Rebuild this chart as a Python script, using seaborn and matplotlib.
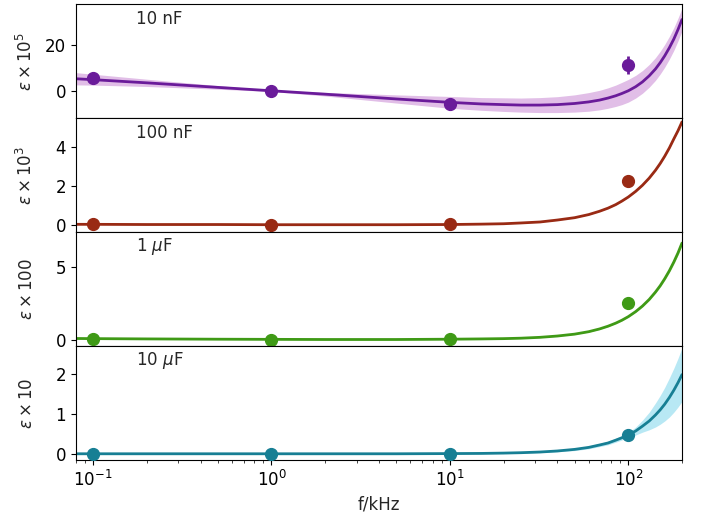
import numpy as np
import pandas as pd
import matplotlib
matplotlib.use("Agg")
import matplotlib.pyplot as plt
import seaborn as sns

sns.set_style("ticks")
plt.rcParams['font.family'] = ['DejaVu Sans']
plt.rcParams['font.size'] = 12

# measured points (f in kHz)
f_meas = [0.1, 1, 10, 100]
eps_10nF = [5.5, 0.0, -5.9, 11.4]        # x 1e5
err_10nF = [1.5, 1.2, 1.2, 4.0]
eps_100nF = [0.06, 0.0, 0.05, 2.26]      # x 1e3
err_100nF = [0.02, 0.02, 0.02, 0.03]
eps_1uF = [0.03, 0.0, 0.03, 2.51]        # x 100
err_1uF = [0.02, 0.02, 0.02, 0.03]
eps_10uF = [0.0, 0.0, 0.0, 0.475]        # x 10
err_10uF = [0.005, 0.005, 0.005, 0.01]

# fit curves + confidence band half widths
f_fit = [0.08, 0.1, 0.2, 0.5, 1, 2, 5, 10, 15, 20, 25, 32, 40, 50, 60, 69, 77, 85, 92,
         100, 110, 120, 131, 142, 151, 160, 170, 180, 190, 200]
fit_10nF = [5.3, 4.9, 3.5, 1.5, 0.0, -1.5, -3.6, -5.1, -5.8, -6.1, -6.3, -6.3, -6.1, -5.6, -4.9,
            -4.1, -3.2, -2.2, -1.2, 0.0, 1.8, 3.9, 6.6, 9.6, 12.4, 15.4, 19.0, 22.8, 27.0, 31.4]
band_10nF = [2.7, 2.4, 1.6, 0.8, 0.3, 0.8, 1.8, 2.6, 2.8, 3.0, 3.1, 3.3, 3.5, 3.8, 4.1,
             4.3, 4.5, 4.7, 4.9, 5.0, 5.0, 5.0, 5.0, 5.0, 5.0, 5.0, 5.0, 5.0, 5.0, 5.0]
fit_100nF = [0.05, 0.05, 0.04, 0.04, 0.03, 0.03, 0.03, 0.04, 0.06, 0.08, 0.12, 0.17, 0.27, 0.39, 0.55,
             0.72, 0.88, 1.06, 1.24, 1.45, 1.74, 2.05, 2.42, 2.82, 3.17, 3.54, 3.97, 4.43, 4.85, 5.3]
band_100nF = [0.01, 0.01, 0.01, 0.01, 0.01, 0.01, 0.01, 0.01, 0.01, 0.01, 0.01, 0.01, 0.01, 0.01, 0.01,
              0.01, 0.02, 0.02, 0.02, 0.02, 0.02, 0.02, 0.03, 0.03, 0.03, 0.03, 0.03, 0.04, 0.04, 0.04]
fit_1uF = [0.08, 0.07, 0.05, 0.03, 0.02, 0.01, 0.01, 0.03, 0.05, 0.07, 0.10, 0.16, 0.25, 0.38, 0.55,
           0.74, 0.93, 1.14, 1.34, 1.59, 1.94, 2.32, 2.78, 3.29, 3.73, 4.21, 4.77, 5.37, 6.0, 6.68]
band_1uF = [0.03, 0.03, 0.02, 0.02, 0.02, 0.02, 0.02, 0.02, 0.02, 0.02, 0.02, 0.02, 0.02, 0.02, 0.03,
            0.03, 0.03, 0.03, 0.04, 0.04, 0.05, 0.06, 0.07, 0.08, 0.09, 0.10, 0.12, 0.13, 0.15, 0.16]
fit_10uF = [0.0, 0.0, 0.0, 0.0, 0.0, 0.0, 0.0, 0.005, 0.009, 0.017, 0.027, 0.044, 0.07, 0.11, 0.16,
            0.22, 0.27, 0.34, 0.40, 0.47, 0.57, 0.69, 0.82, 0.97, 1.10, 1.24, 1.41, 1.59, 1.78, 1.98]
band_10uF = [0.005, 0.005, 0.005, 0.005, 0.005, 0.005, 0.005, 0.005, 0.005, 0.008, 0.01, 0.015, 0.02, 0.03, 0.035,
             0.04, 0.045, 0.05, 0.055, 0.06, 0.10, 0.15, 0.22, 0.30, 0.36, 0.42, 0.49, 0.55, 0.61, 0.67]

labels = ['10 nF', '100 nF', r'1 $\mu$F', r'10 $\mu$F']
ylabels = [r'$\varepsilon \times 10^5$', r'$\varepsilon \times 10^3$',
           r'$\varepsilon \times 100$', r'$\varepsilon \times 10$']
line_colors = ['#6a1b9a', '#992a14', '#3f9a16', '#177f94']
band_colors = ['#e1bee7', '#f2c4b8', '#c5ecb0', '#b8e8f4']
ylims = [(-12, 38.2), (-0.34, 5.5), (-0.43, 7.45), (-0.15, 2.7)]
yticks = [[0, 20], [0, 2, 4], [0, 5], [0, 1, 2]]

meas = [(eps_10nF, err_10nF), (eps_100nF, err_100nF), (eps_1uF, err_1uF), (eps_10uF, err_10uF)]
fits = [(fit_10nF, band_10nF), (fit_100nF, band_100nF), (fit_1uF, band_1uF), (fit_10uF, band_10uF)]

fig, axes = plt.subplots(4, 1, sharex=True, figsize=(7.02, 5.12))
plt.subplots_adjust(left=0.108, right=0.9715, top=0.992, bottom=0.102, hspace=0)

for i, ax in enumerate(axes):
    fit, band = fits[i]
    fit = np.array(fit)
    band = np.array(band)
    ax.fill_between(f_fit, fit - band, fit + band, color=band_colors[i], lw=0, zorder=1)
    df = pd.DataFrame({'f': f_fit, 'eps': fit})
    sns.lineplot(data=df, x='f', y='eps', ax=ax, color=line_colors[i], lw=2, zorder=2)
    y, e = meas[i]
    ax.errorbar(f_meas, y, yerr=e, fmt='o', ms=8.5, color=line_colors[i], elinewidth=2, zorder=3)
    ax.text(0.1, 0.87, labels[i], transform=ax.transAxes, va='center')
    ax.set_ylim(*ylims[i])
    ax.set_yticks(yticks[i])
    ax.set_ylabel(ylabels[i])
    ax.yaxis.set_label_coords(-0.066, 0.5)
    ax.set_xscale('log')
    ax.set_xlabel('')
    for s in ax.spines.values():
        s.set_color('black')
    ax.tick_params(colors='black')

axes[-1].set_xlim(0.08, 200)
axes[-1].set_xlabel('f/kHz')

fig.savefig('out.png', dpi=100)
